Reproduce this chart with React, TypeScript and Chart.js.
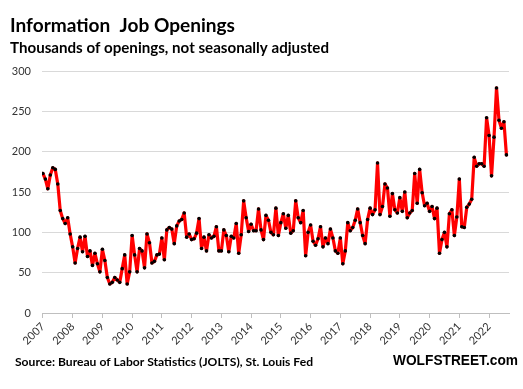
import React, { useEffect, useRef } from "react";
import { Chart, registerables } from "chart.js";

Chart.register(...registerables);

// Monthly data, starting January 2007
const startYear = 2007;
const openings = [
  173, 166, 154, 171, 180, 178, 160, 127, 117, 111, 118, 98,
  82, 62, 80, 94, 76, 95, 70, 77, 59, 74, 61, 51,
  79, 65, 44, 36, 38, 44, 41, 38, 55, 72, 36, 51,
  96, 72, 51, 80, 77, 56, 98, 87, 62, 64, 72, 73,
  93, 66, 103, 106, 104, 86, 108, 114, 116, 124, 94, 98,
  91, 92, 99, 117, 80, 94, 77, 97, 93, 95, 107, 77,
  77, 103, 96, 76, 95, 93, 111, 74, 97, 139, 118, 101,
  110, 102, 102, 129, 103, 91, 121, 115, 100, 97, 130, 96,
  112, 123, 105, 121, 99, 102, 139, 118, 112, 127, 71, 100,
  109, 89, 84, 92, 107, 82, 93, 86, 104, 93, 77, 74,
  93, 61, 77, 112, 102, 106, 115, 129, 112, 96, 86, 116,
  130, 122, 128, 186, 122, 132, 160, 155, 120, 148, 128, 124,
  143, 126, 150, 118, 124, 127, 173, 136, 178, 149, 133, 136,
  126, 132, 117, 130, 74, 91, 100, 82, 123, 128, 96, 119,
  166, 107, 106, 131, 135, 141, 193, 182, 185, 185, 182, 242,
  220, 170, 218, 279, 239, 229, 237, 196,
];
const yearTicks = [2007, 2008, 2009, 2010, 2011, 2012, 2013, 2014, 2015, 2016, 2017, 2018, 2019, 2020, 2021, 2022];
const yTicks = [0, 50, 100, 150, 200, 250, 300];

const titleText = "Information  Job Openings";
const subtitleText = "Thousands of openings, not seasonally adjusted";
const sourceText = "Source: Bureau of Labor Statistics (JOLTS), St. Louis Fed";
const brandText = "WOLFSTREET.com";

function fitText(ctx: CanvasRenderingContext2D, text: string, x: number, y: number, font: string, width: number) {
  ctx.save();
  ctx.font = font;
  ctx.fillStyle = "#000";
  ctx.textBaseline = "alphabetic";
  ctx.textAlign = "left";
  const w = ctx.measureText(text).width;
  const s = width / w;
  ctx.translate(x, y);
  ctx.scale(s, 1);
  ctx.fillText(text, 0, 0);
  ctx.restore();
}

const textPlugin = {
  id: "texts",
  afterDraw(chart: any) {
    const ctx = chart.ctx as CanvasRenderingContext2D;
    fitText(ctx, titleText, 10, 32, "bold 18px Lato", 225);
    fitText(ctx, subtitleText, 10, 53, "bold 15px Lato", 319);
    fitText(ctx, sourceText, 15, 365.5, "bold 12px Lato", 298);
    fitText(ctx, brandText, 393, 365, "bold 14px 'Liberation Sans'", 125);
  },
};

export default function App() {
  const ref = useRef<HTMLCanvasElement>(null);
  useEffect(() => {
    const points = openings.map((v, i) => ({ x: startYear + i / 12, y: v }));
    const tickFont = { family: "Lato", size: 11 };
    const chart = new Chart(ref.current!, {
      type: "line",
      data: {
        datasets: [
          {
            data: points,
            borderColor: "#ff0000",
            borderWidth: 3.2,
            borderJoinStyle: "round",
            borderCapStyle: "round",
            pointRadius: 1.8,
            pointBackgroundColor: "#000",
            pointBorderWidth: 0,
            tension: 0,
          },
        ],
      },
      options: {
        responsive: false,
        animation: false,
        layout: { padding: { left: 0, top: 71, right: 14, bottom: 0 } },
        plugins: { legend: { display: false }, tooltip: { enabled: false }, title: { display: false } },
        scales: {
          x: {
            type: "linear",
            min: 2006.97,
            max: 2022.67,
            afterBuildTicks: (s: any) => {
              s.ticks = yearTicks.map((v) => ({ value: v }));
            },
            afterFit: (s: any) => {
              s.height = 76;
            },
            ticks: {
              autoSkip: false,
              minRotation: 45,
              maxRotation: 45,
              padding: 2,
              color: "#333",
              font: tickFont,
              callback: (v: any) => String(v),
            },
            grid: { drawOnChartArea: false, drawTicks: true, tickLength: 5, color: "#bfbfbf" },
            border: { display: true, color: "#bfbfbf" },
          },
          y: {
            min: 0,
            max: 300,
            afterBuildTicks: (s: any) => {
              s.ticks = yTicks.map((v) => ({ value: v }));
            },
            afterFit: (s: any) => {
              s.width = 42;
            },
            ticks: { padding: 11, color: "#333", font: tickFont },
            grid: { color: "#d9d9d9", drawTicks: false },
            border: { display: false },
          },
        },
      },
      plugins: [textPlugin],
    } as any);
    return () => chart.destroy();
  }, []);
  return (
    <div style={{ position: "fixed", left: 0, top: 0, width: 523, height: 389, background: "#fff" }}>
      <canvas ref={ref} width={523} height={389} style={{ display: "block" }} />
    </div>
  );
}
